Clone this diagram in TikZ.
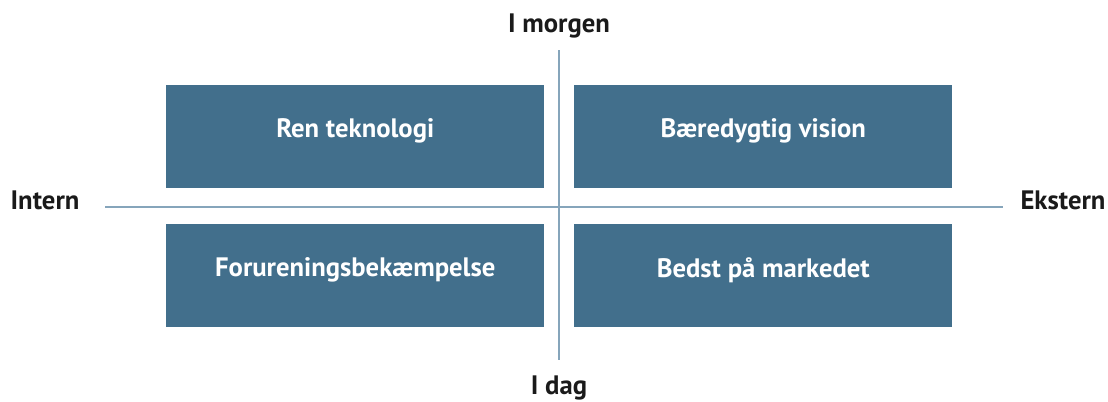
\documentclass[tikz,border=0pt]{standalone}
\usepackage{fontspec}
\setmainfont{PT Sans}
\definecolor{boxblue}{HTML}{426F8C}
\definecolor{axisblue}{HTML}{86A5BB}
\definecolor{labeltext}{HTML}{1A1A1A}
\begin{document}
\begin{tikzpicture}[x=0.75pt,y=-0.75pt,
  quad/.style={fill=boxblue,draw=none,minimum width=378*0.75pt,minimum height=103*0.75pt,
    inner sep=0pt,anchor=north west},
  quadtext/.style={text=white,font=\fontsize{20}{22}\selectfont\bfseries,inner sep=0pt,yshift=4.5pt},
  axislabel/.style={text=labeltext,font=\fontsize{20}{22}\selectfont\bfseries,inner sep=0pt},
  axis/.style={draw=axisblue,line width=1.1pt}]
\useasboundingbox (0,0) rectangle (1108,401);
\node[quad] (rt) at (166,85) {};
\node[quad] (bv) at (574,85) {};
\node[quad] (fb) at (166,224) {};
\node[quad] (bm) at (574,224) {};
\node[quadtext] (rtt) at (rt.center) {Ren teknologi};
\node[quadtext] (bvt) at (bv.center) {Bæredygtig vision};
\node[quadtext] (fbt) at (fb.center) {Forureningsbekæmpelse};
\node[quadtext] (bmt) at (bm.center) {Bedst på markedet};
\node[axislabel] (top) at (559,26) {I morgen};
\node[axislabel] (bot) at (559,388) {I dag};
\node[axislabel] (left) at (45,200) {Intern};
\node[axislabel] (right) at (1063,200) {Ekstern};
\coordinate (hl) at (105,207);
\coordinate (hr) at (1003,207);
\coordinate (vt) at (559,50);
\coordinate (vb) at (559,360);
\draw[axis] (hl) -- (hr);
\draw[axis] (vt) -- (vb);
\end{tikzpicture}
\end{document}
